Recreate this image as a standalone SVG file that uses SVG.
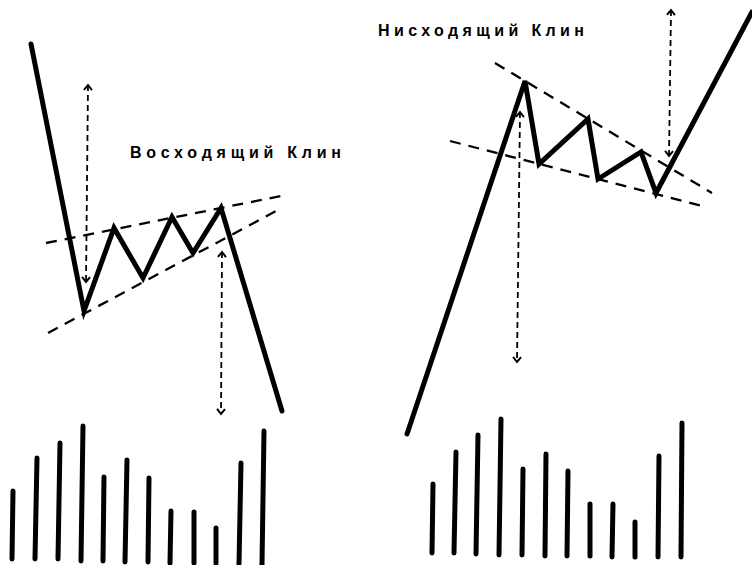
<svg xmlns="http://www.w3.org/2000/svg" width="752" height="565" viewBox="0 0 752 565">
<style>
.price{fill:none;stroke:#000;stroke-width:5;stroke-linejoin:miter;stroke-linecap:round}
.trend{fill:none;stroke:#000;stroke-width:2.3;stroke-dasharray:11 8}
.target{fill:none;stroke:#000;stroke-width:1.8;stroke-dasharray:6 4;marker-start:url(#ah);marker-end:url(#ah)}
.vol{stroke:#000;stroke-width:5;stroke-linecap:round}
.lbl{font-family:"Liberation Sans",Arial,sans-serif;font-size:16px;font-weight:bold;fill:#000}
</style>
<defs>
<marker id="ah" viewBox="-6 -6 12 12" markerWidth="12" markerHeight="12" markerUnits="userSpaceOnUse" refX="0" refY="0" orient="auto-start-reverse">
<path d="M-5,-4 L0,0 L-5,4" fill="none" stroke="#000" stroke-width="2"/>
</marker>
</defs>
<rect width="752" height="565" fill="#fff"/>
<g id="rising-wedge">
<g id="rw-trendlines">
<line class="trend" x1="46" y1="243" x2="281" y2="196"/>
<line class="trend" x1="48" y1="333" x2="278" y2="210"/>
</g>
<polyline class="price" points="31,44 84,311 114,228 143,278 172,217 193,253 221,208 282,411"/>
<text class="lbl" x="130" y="158" textLength="211" lengthAdjust="spacing">Восходящий Клин</text>
</g>
<g id="falling-wedge">
<g id="fw-trendlines">
<line class="trend" x1="495" y1="63" x2="712" y2="193"/>
<line class="trend" x1="450" y1="141" x2="706" y2="207"/>
</g>
<polyline class="price" points="407,434 525,81 539,164 588,119 598,179 641,152 656,193 752,12"/>
<text class="lbl" x="378" y="36" textLength="206" lengthAdjust="spacing">Нисходящий Клин</text>
</g>
<g id="connectors">
<line class="target" x1="88" y1="85" x2="86" y2="282"/>
<line class="target" x1="222" y1="252" x2="221" y2="414"/>
<line class="target" x1="520" y1="112" x2="517" y2="362"/>
<line class="target" x1="671" y1="10" x2="669" y2="156"/>
</g>
<g id="volume-left">
<line class="vol" x1="13" y1="491" x2="12" y2="559"/>
<line class="vol" x1="37" y1="458" x2="35" y2="559"/>
<line class="vol" x1="60" y1="443" x2="58" y2="559"/>
<line class="vol" x1="83" y1="426" x2="81" y2="561"/>
<line class="vol" x1="104" y1="477" x2="103" y2="561"/>
<line class="vol" x1="127" y1="460" x2="125" y2="562"/>
<line class="vol" x1="149" y1="478" x2="148" y2="562"/>
<line class="vol" x1="171" y1="511" x2="170" y2="563"/>
<line class="vol" x1="194" y1="512" x2="194" y2="563"/>
<line class="vol" x1="216" y1="528" x2="216" y2="563"/>
<line class="vol" x1="241" y1="463" x2="239" y2="564"/>
<line class="vol" x1="264" y1="431" x2="262" y2="565"/>
</g>
<g id="volume-right">
<line class="vol" x1="433" y1="484" x2="432" y2="553"/>
<line class="vol" x1="456" y1="452" x2="454" y2="553"/>
<line class="vol" x1="478" y1="435" x2="476" y2="554"/>
<line class="vol" x1="501" y1="419" x2="499" y2="555"/>
<line class="vol" x1="523" y1="469" x2="522" y2="555"/>
<line class="vol" x1="546" y1="454" x2="545" y2="556"/>
<line class="vol" x1="568" y1="471" x2="567" y2="556"/>
<line class="vol" x1="590" y1="504" x2="590" y2="556"/>
<line class="vol" x1="613" y1="504" x2="612" y2="557"/>
<line class="vol" x1="635" y1="522" x2="635" y2="557"/>
<line class="vol" x1="659" y1="456" x2="658" y2="557"/>
<line class="vol" x1="682" y1="423" x2="681" y2="557"/>
</g>
</svg>
